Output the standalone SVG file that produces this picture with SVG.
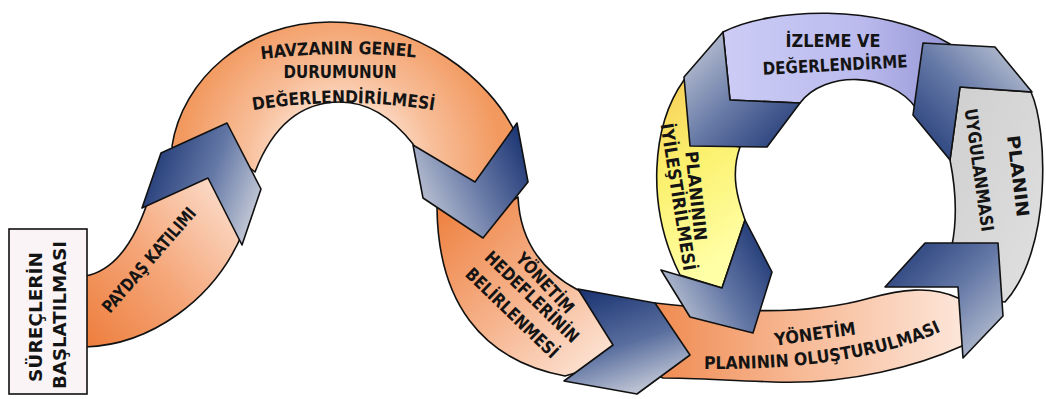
<svg xmlns="http://www.w3.org/2000/svg" width="1046" height="399" viewBox="0 0 1046 399">
<defs>
<style>
.band{stroke:#111;stroke-width:1.6;stroke-linejoin:round}
.chev{stroke:#111;stroke-width:1.6;stroke-linejoin:round}
.t{font-family:"DejaVu Sans","Liberation Sans",sans-serif;font-weight:bold;font-size:17.5px;fill:#141414;text-anchor:middle;dominant-baseline:central}
.tp{font-family:"DejaVu Sans","Liberation Sans",sans-serif;font-weight:bold;font-size:17.5px;fill:#141414;text-anchor:middle}
</style>
<linearGradient id="gA" x1="0" y1="1" x2="1" y2="0"><stop offset="0" stop-color="#ed7d3c"/><stop offset="0.45" stop-color="#f5a77a"/><stop offset="1" stop-color="#fdeadf"/></linearGradient>
<radialGradient id="gB" gradientUnits="userSpaceOnUse" cx="340" cy="165" r="170"><stop offset="0.3" stop-color="#fde1cf"/><stop offset="0.55" stop-color="#f8bf9b"/><stop offset="0.95" stop-color="#f2995f"/></radialGradient>
<linearGradient id="gC" x1="0" y1="0.1" x2="0.9" y2="1"><stop offset="0" stop-color="#ee8242"/><stop offset="0.5" stop-color="#f6b38c"/><stop offset="1" stop-color="#fde7da"/></linearGradient>
<linearGradient id="gD" x1="0" y1="0" x2="1" y2="0"><stop offset="0" stop-color="#ee8040"/><stop offset="0.5" stop-color="#f7b995"/><stop offset="1" stop-color="#fde9de"/></linearGradient>
<linearGradient id="gP" x1="0" y1="0" x2="1" y2="0"><stop offset="0" stop-color="#ccccf6"/><stop offset="0.6" stop-color="#bbbbee"/><stop offset="1" stop-color="#9696d6"/></linearGradient>
<linearGradient id="gG" x1="0" y1="0" x2="1" y2="1"><stop offset="0" stop-color="#cfcfcf"/><stop offset="1" stop-color="#e0e0e0"/></linearGradient>
<linearGradient id="gY" x1="0" y1="0" x2="0.3" y2="1"><stop offset="0" stop-color="#f7cc58"/><stop offset="0.45" stop-color="#fbf06c"/><stop offset="1" stop-color="#ffffa6"/></linearGradient>
<linearGradient id="c1" x1="0" y1="0.3" x2="1" y2="0.7"><stop offset="0" stop-color="#1b3472"/><stop offset="0.55" stop-color="#6478a6"/><stop offset="1" stop-color="#c7ccd8"/></linearGradient>
<linearGradient id="c2" x1="0" y1="0.7" x2="1" y2="0.2"><stop offset="0" stop-color="#c5cad8"/><stop offset="0.5" stop-color="#6a7ca8"/><stop offset="1" stop-color="#1b3472"/></linearGradient>
<linearGradient id="c3" x1="0.2" y1="0" x2="0.6" y2="1"><stop offset="0" stop-color="#1b3472"/><stop offset="0.55" stop-color="#5a6f9f"/><stop offset="1" stop-color="#c5cad8"/></linearGradient>
<linearGradient id="c4" x1="0" y1="0" x2="1" y2="1"><stop offset="0" stop-color="#cdd1dc"/><stop offset="0.5" stop-color="#6a7ca8"/><stop offset="1" stop-color="#1b3472"/></linearGradient>
<linearGradient id="c5" x1="0" y1="0.8" x2="1" y2="0.2"><stop offset="0" stop-color="#c8cdd9"/><stop offset="0.5" stop-color="#6478a6"/><stop offset="1" stop-color="#1b3472"/></linearGradient>
<linearGradient id="c6" x1="0" y1="0" x2="1" y2="1"><stop offset="0" stop-color="#1b3472"/><stop offset="0.5" stop-color="#6478a6"/><stop offset="1" stop-color="#c8cdd9"/></linearGradient>
<linearGradient id="c7" x1="0" y1="1" x2="1" y2="0"><stop offset="0" stop-color="#1b3472"/><stop offset="0.5" stop-color="#6478a6"/><stop offset="1" stop-color="#cdd1dc"/></linearGradient>
<path id="pHav" d="M255,60 Q338,49 422,58"/>
<path id="pDeg" d="M249,111 Q343,95 438,111"/>
<path id="pPlan" d="M698,369 Q860,371 946,329"/>
</defs>
<rect width="1046" height="399" fill="#ffffff"/>

<g id="paydas-katilimi">
<path class="band" fill="url(#gA)" d="M85,276 C120,270 140,230 152,188 L170,165 L235,165 L243,232 C215,300 150,345 85,347 Z"/>
<text class="t" transform="translate(149,260) rotate(-49)" textLength="133" lengthAdjust="spacingAndGlyphs">PAYDAŞ KATILIMI</text>
</g>

<g id="surecler">
<rect x="9" y="229" width="78" height="165" fill="#fbf4f7" stroke="#111" stroke-width="1.6"/>
<text class="t" transform="translate(36,317) rotate(-90)" textLength="130" lengthAdjust="spacingAndGlyphs">SÜREÇLERİN</text>
<text class="t" transform="translate(60,315) rotate(-90)" textLength="148" lengthAdjust="spacingAndGlyphs">BAŞLATILMASI</text>
</g>

<g id="havza">
<path class="band" fill="url(#gB)" d="M178,162 L172,146 C182,80 245,22 330,22 C420,22 490,80 515,132 L495,200 L430,190 L413,144 C390,115 365,102 340,102 C300,102 272,128 255,172 L240,160 Z"/>
<text class="tp"><textPath href="#pHav" startOffset="50%" textLength="155" lengthAdjust="spacingAndGlyphs">HAVZANIN GENEL</textPath></text>
<text class="tp" x="340" y="78" textLength="113" lengthAdjust="spacingAndGlyphs">DURUMUNUN</text>
<text class="tp"><textPath href="#pDeg" startOffset="50%" textLength="182" lengthAdjust="spacingAndGlyphs">DEĞERLENDİRİLMESİ</textPath></text>
</g>

<g id="hedefler">
<path class="band" fill="url(#gC)" d="M437,208 C438,300 480,360 565,376 L620,360 L620,320 L578,290 C540,270 520,240 518,197 L490,215 L440,205 Z"/>
<text class="t" transform="translate(545,283) rotate(47)" textLength="76" lengthAdjust="spacingAndGlyphs">YÖNETİM</text>
<text class="t" transform="translate(532,297) rotate(44)" textLength="123" lengthAdjust="spacingAndGlyphs">HEDEFLERİNİN</text>
<text class="t" transform="translate(512,313) rotate(44)" textLength="121" lengthAdjust="spacingAndGlyphs">BELİRLENMESİ</text>
</g>

<g id="plan-olusturma">
<path class="band" fill="url(#gD)" d="M620,320 L655,303 C720,310 800,318 870,298 C900,290 930,285 958,298 L975,300 L972,342 L962,346 C920,365 850,385 773,382 C720,380 690,378 663,378 L625,360 Z"/>
<text class="t" transform="translate(815,334) rotate(-8)" textLength="82" lengthAdjust="spacingAndGlyphs">YÖNETİM</text>
<text class="tp"><textPath href="#pPlan" startOffset="50%" textLength="242" lengthAdjust="spacingAndGlyphs">PLANININ OLUŞTURULMASI</textPath></text>
</g>

<g id="izleme">
<path class="band" fill="url(#gP)" d="M723,32 C770,8 880,2 950,44 L940,100 L916,108 C890,72 825,70 800,103 L730,100 Z"/>
<text class="t" x="833" y="41" textLength="95" lengthAdjust="spacingAndGlyphs">İZLEME VE</text>
<text class="t" transform="translate(835,65) rotate(-3)" textLength="145" lengthAdjust="spacingAndGlyphs">DEĞERLENDİRME</text>
</g>

<g id="uygulama">
<path class="band" fill="url(#gG)" d="M1031,92 C1048,130 1052,250 1005,302 L990,300 L955,250 L952,245 C957,220 956,190 950,160 L960,87 Z"/>
<text class="t" transform="translate(1018,176) rotate(83)" textLength="82" lengthAdjust="spacingAndGlyphs">PLANIN</text>
<text class="t" transform="translate(979,170) rotate(82)" textLength="124" lengthAdjust="spacingAndGlyphs">UYGULANMASI</text>
</g>

<g id="iyilestirme">
<path class="band" fill="url(#gY)" d="M684,80 C652,125 645,205 680,275 L722,288 L745,220 C738,200 730,175 740,147 L700,140 L690,90 Z"/>
<text class="t" transform="translate(696,196) rotate(84)" textLength="90" lengthAdjust="spacingAndGlyphs">PLANININ</text>
<text class="t" transform="translate(678,197) rotate(81)" textLength="149" lengthAdjust="spacingAndGlyphs">İYİLEŞTİRİLMESİ</text>
</g>

<g id="connectors">
<polygon class="chev" fill="url(#c1)" points="142,208 161,153 227,123 261,189 242,245 208,178"/>
<polygon class="chev" fill="url(#c2)" points="413,145 475,182 517,123 528,182 483,238 423,198"/>
<polygon class="chev" fill="url(#c3)" points="578,289 655,303 690,355 637,394 564,381 613,345"/>
<polygon class="chev" fill="url(#c4)" points="723,32 730,100 800,103 767,147 690,146 684,77"/>
<polygon class="chev" fill="url(#c5)" points="661,270 722,288 745,220 772,272 753,333 690,317"/>
<polygon class="chev" fill="url(#c6)" points="885,287 925,243 998,243 1003,316 963,358 958,287"/>
<polygon class="chev" fill="url(#c7)" points="923,43 995,47 1032,92 960,87 950,160 913,115"/>
</g>
</svg>
